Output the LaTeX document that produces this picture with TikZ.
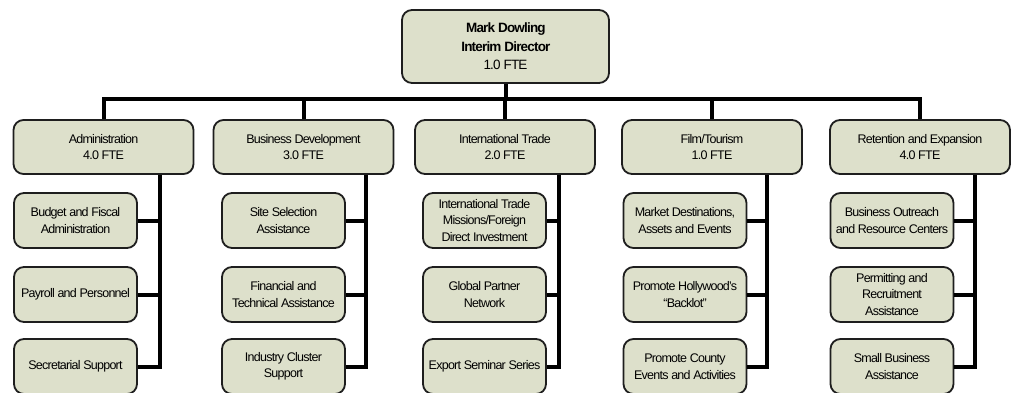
\documentclass[tikz,border=0pt]{standalone}
\usepackage{fontspec}
\setmainfont{Liberation Sans}
\newfontfamily\chartfont[LetterSpace=-6]{Liberation Sans}
\usetikzlibrary{positioning}
\definecolor{boxfill}{RGB}{221,224,203}
\definecolor{boxline}{RGB}{30,30,30}

\begin{document}
\begin{tikzpicture}[
    % GLOBAL CFG
    x=1pt, y=-1pt,
    % Styles
    unit/.style={% For every rounded box
        rectangle,
        rounded corners=10pt,
        draw=boxline,
        fill=boxfill,
        line width=1.8pt,
        align=center,
        inner sep=2pt,
        font=\chartfont\fontsize{12.5}{16.5}\selectfont,
        },
    headbox/.style={% For the director
        unit,
        minimum width=207pt,
        minimum height=73pt,
        font=\chartfont\fontsize{13.5}{18.5}\selectfont,
        },
    deptbox/.style={% For the divisions
        unit,
        minimum width=180pt,
        minimum height=54pt,
        },
    taskbox/.style={% For the tasks below each division
        unit,
        minimum width=123pt,
        minimum height=55pt,
        },
    orgline/.style={% Thick connectors
        line width=4pt,
        draw=black,
        }
    ]

\useasboundingbox (0,0) rectangle (1012,392);

%Start drawing the thing...
    % Draw the director
    \node [headbox] (director) at (505.5,46.5) {\textbf{Mark Dowling}\\\textbf{Interim Director}\\1.0 FTE};

    % Draw divisions
    \node [deptbox] (admin) at (103.5,147) {Administration\\4.0 FTE};
    \node [deptbox] (busdev) at (303.5,147) {Business Development\\3.0 FTE};
    \node [deptbox] (trade) at (505,147) {International Trade\\2.0 FTE};
    \node [deptbox] (film) at (712,147) {Film/Tourism\\1.0 FTE};
    \node [deptbox] (retain) at (920,147) {Retention and Expansion\\4.0 FTE};

    % Draw tasks, column by column
    \node [taskbox] (budget) at (75.5,220.5) {Budget and Fiscal\\Administration};
    \node [taskbox] (payroll) at (75.5,294.5) {Payroll and Personnel};
    \node [taskbox] (secretary) at (75.5,366.5) {Secretarial Support};

    \node [taskbox] (site) at (283.5,220.5) {Site Selection\\Assistance};
    \node [taskbox] (fintech) at (283.5,294.5) {Financial and\\Technical Assistance};
    \node [taskbox] (cluster) at (283.5,366.5) {Industry Cluster\\Support};

    \node [taskbox] (missions) at (484.5,220.5) {International Trade\\Missions/Foreign\\Direct Investment};
    \node [taskbox] (partner) at (484.5,294.5) {Global Partner\\Network};
    \node [taskbox] (seminar) at (484.5,366.5) {Export Seminar Series};

    \node [taskbox] (market) at (685,220.5) {Market Destinations,\\Assets and Events};
    \node [taskbox] (backlot) at (685,294.5) {Promote Hollywood’s\\“Backlot”};
    \node [taskbox] (county) at (685,366.5) {Promote County\\Events and Activities};

    \node [taskbox] (outreach) at (892,220.5) {Business Outreach\\and Resource Centers};
    \node [taskbox] (permit) at (892,294.5) {Permitting and\\Recruitment\\Assistance};
    \node [taskbox] (smallbiz) at (892,366.5) {Small Business\\Assistance};

    % Spines of each column
    \coordinate (adminspine) at (160,0);
    \coordinate (busdevspine) at (366,0);
    \coordinate (tradespine) at (559,0);
    \coordinate (filmspine) at (767,0);
    \coordinate (retainspine) at (975,0);

% Start connecting all.
    % Top bar
    \draw [orgline] (director) -- (director |- 0,100);
    \draw [orgline] (admin.north) -- ++(0,-20) -| (retain.north);
    \draw [orgline] (busdev.north) -- ++(0,-20);
    \draw [orgline] (trade.north) -- ++(0,-20);
    \draw [orgline] (film.north) -- ++(0,-20);

    % Columns
    \draw [orgline] (admin.south -| adminspine) |- (secretary.east);
    \draw [orgline] (budget.east) -- (budget.east -| adminspine);
    \draw [orgline] (payroll.east) -- (payroll.east -| adminspine);

    \draw [orgline] (busdev.south -| busdevspine) |- (cluster.east);
    \draw [orgline] (site.east) -- (site.east -| busdevspine);
    \draw [orgline] (fintech.east) -- (fintech.east -| busdevspine);

    \draw [orgline] (trade.south -| tradespine) |- (seminar.east);
    \draw [orgline] (missions.east) -- (missions.east -| tradespine);
    \draw [orgline] (partner.east) -- (partner.east -| tradespine);

    \draw [orgline] (film.south -| filmspine) |- (county.east);
    \draw [orgline] (market.east) -- (market.east -| filmspine);
    \draw [orgline] (backlot.east) -- (backlot.east -| filmspine);

    \draw [orgline] (retain.south -| retainspine) |- (smallbiz.east);
    \draw [orgline] (outreach.east) -- (outreach.east -| retainspine);
    \draw [orgline] (permit.east) -- (permit.east -| retainspine);

\end{tikzpicture}
\end{document}
